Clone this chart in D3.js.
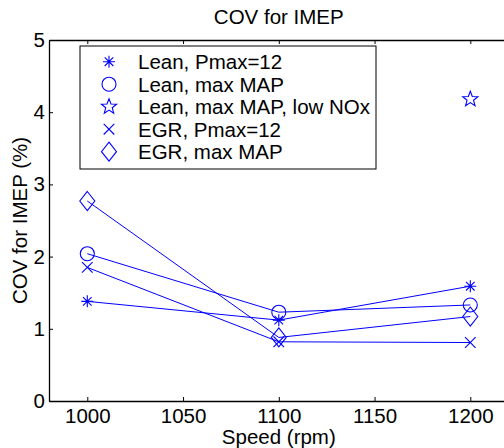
<!DOCTYPE html>
<html>
<head>
<meta charset="utf-8">
<script src="https://cdn.jsdelivr.net/npm/d3@7"></script>
<style>
  html, body { margin: 0; padding: 0; background: #fff; }
  svg { display: block; font-family: "Liberation Sans", Arial, Helvetica, sans-serif; }
</style>
</head>
<body>
<svg id="chart" width="504" height="448"></svg>
<script>
// ---- Data ----
const speeds = [1000, 1100, 1200];
const leanPmax12 = [1.38, 1.12, 1.59];
const leanMaxMAP = [2.04, 1.23, 1.33];
const leanMaxMAPLowNOx = [null, null, 4.18];
const egrPmax12 = [1.85, 0.82, 0.81];
const egrMaxMAP = [2.77, 0.88, 1.17];
const seriesNames = ["Lean, Pmax=12", "Lean, max MAP", "Lean, max MAP, low NOx", "EGR, Pmax=12", "EGR, max MAP"];
const seriesValues = [leanPmax12, leanMaxMAP, leanMaxMAPLowNOx, egrPmax12, egrMaxMAP];
const seriesMarkers = ["asterisk", "circle", "star", "cross", "diamond"];
const xTicks = [1000, 1050, 1100, 1150, 1200];
const yTicks = [0, 1, 2, 3, 4, 5];
const xDomain = [980, 1220];
const yDomain = [0, 5];

// ---- Layout ----
const blue = "#0000ff";
const svg = d3.select("#chart");
const mLeft = 49, mRight = 508.6, mTop = 40, mBottom = 401;
const x = d3.scaleLinear().domain(xDomain).range([mLeft, mRight]);
const y = d3.scaleLinear().domain(yDomain).range([mBottom, mTop]);
const fs = 20.5;

function markerPath(type) {
  const p = d3.path();
  if (type === "asterisk") {
    const r = 6, d = 4.3;
    p.moveTo(-r, 0); p.lineTo(r, 0);
    p.moveTo(0, -r); p.lineTo(0, r);
    p.moveTo(-d, -d); p.lineTo(d, d);
    p.moveTo(-d, d); p.lineTo(d, -d);
  } else if (type === "circle") {
    p.moveTo(7, 0); p.arc(0, 0, 7, 0, 2 * Math.PI);
  } else if (type === "star") {
    const ro = 8, ri = 3.4;
    for (let i = 0; i < 10; i++) {
      const r = i % 2 === 0 ? ro : ri;
      const a = -Math.PI / 2 + i * Math.PI / 5;
      if (i === 0) p.moveTo(r * Math.cos(a), r * Math.sin(a));
      else p.lineTo(r * Math.cos(a), r * Math.sin(a));
    }
    p.closePath();
  } else if (type === "cross") {
    const r = 5.3;
    p.moveTo(-r, -r); p.lineTo(r, r);
    p.moveTo(-r, r); p.lineTo(r, -r);
  } else if (type === "diamond") {
    const w = 7.5, h = 9.5;
    p.moveTo(0, -h); p.lineTo(w, 0); p.lineTo(0, h); p.lineTo(-w, 0); p.closePath();
  }
  return p.toString();
}

// ---- Axes ----
const axStyle = g => {
  g.select(".domain").attr("stroke", "#000").attr("stroke-width", 1.3);
  g.selectAll(".tick line").attr("stroke", "#000").attr("stroke-width", 1);
  g.selectAll(".tick text").attr("font-size", fs).attr("fill", "#000")
    .attr("font-family", "Liberation Sans, Arial, sans-serif");
};

svg.append("g").attr("transform", `translate(0,${mBottom})`)
  .call(d3.axisBottom(x).tickValues(xTicks).tickFormat(d3.format("d")).tickSize(-4).tickSizeOuter(0).tickPadding(7))
  .call(axStyle);
svg.append("g").attr("transform", `translate(0,${mTop})`)
  .call(d3.axisTop(x).tickValues(xTicks).tickFormat("").tickSize(-4).tickSizeOuter(0))
  .call(axStyle);
svg.append("g").attr("transform", `translate(${mLeft},0)`)
  .call(d3.axisLeft(y).tickValues(yTicks).tickFormat(d3.format("d")).tickSize(-4).tickSizeOuter(0).tickPadding(4))
  .call(axStyle);
svg.append("g").attr("transform", `translate(${mRight},0)`)
  .call(d3.axisRight(y).tickValues(yTicks).tickFormat("").tickSize(-4).tickSizeOuter(0))
  .call(axStyle);

// ---- Series ----
const line = d3.line()
  .defined(d => d.v !== null)
  .x(d => x(d.s)).y(d => y(d.v));

seriesValues.forEach((vals, i) => {
  const pts = vals.map((v, j) => ({ s: speeds[j], v }));
  svg.append("path").datum(pts)
    .attr("d", line).attr("fill", "none").attr("stroke", blue).attr("stroke-width", 1);
  svg.append("g").selectAll("path")
    .data(pts.filter(d => d.v !== null)).join("path")
    .attr("transform", d => `translate(${x(d.s)},${y(d.v)})`)
    .attr("d", markerPath(seriesMarkers[i]))
    .attr("fill", "none").attr("stroke", blue).attr("stroke-width", 1.1);
});

// ---- Title & labels ----
svg.append("text").attr("x", (mLeft + mRight) / 2).attr("y", 24)
  .attr("text-anchor", "middle").attr("font-size", fs).text("COV for IMEP");
svg.append("text").attr("x", (mLeft + mRight) / 2).attr("y", 444)
  .attr("text-anchor", "middle").attr("font-size", fs).text("Speed (rpm)");
svg.append("text").attr("transform", `translate(27,${(mTop + mBottom) / 2}) rotate(-90)`)
  .attr("text-anchor", "middle").attr("font-size", fs).text("COV for IMEP (%)");

// ---- Legend ----
const lg = svg.append("g");
lg.append("rect").attr("x", 80).attr("y", 46).attr("width", 296).attr("height", 123)
  .attr("fill", "#fff").attr("stroke", "#000").attr("stroke-width", 1);
seriesNames.forEach((name, i) => {
  const cy = 61.7 + i * 22.5;
  lg.append("path").attr("transform", `translate(109,${cy})`)
    .attr("d", markerPath(seriesMarkers[i]))
    .attr("fill", "none").attr("stroke", blue).attr("stroke-width", 1.1);
  lg.append("text").attr("x", 138).attr("y", cy).attr("dy", "0.36em")
    .attr("font-size", fs).text(name);
});
</script>
</body>
</html>
